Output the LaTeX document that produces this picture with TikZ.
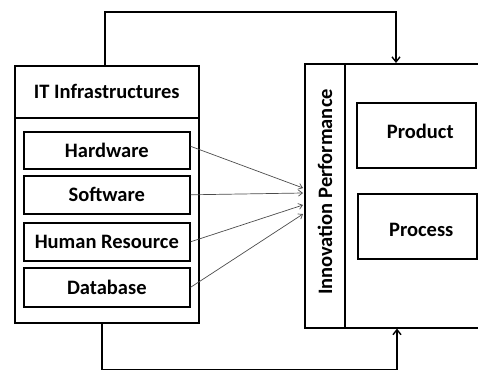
\documentclass[tikz,border=0pt]{standalone}
\usepackage{fontspec}
\setmainfont{Carlito}
\usetikzlibrary{arrows.meta}
\begin{document}
\begin{tikzpicture}[x=1pt,y=-1pt,
  box/.style={draw, line width=1.6pt, inner sep=0pt, anchor=north west, font=\fontsize{20.5}{24}\selectfont\bfseries},
  lbl/.style={inner sep=0pt, font=\fontsize{20.5}{24}\selectfont\bfseries},
  flow/.style={line width=1.6pt, -{Straight Barb[length=5pt,width=8pt,line width=1.4pt]}},
  thinarrow/.style={gray!60!black, line width=0.7pt, -{Straight Barb[length=4pt,width=6pt]}}]
\useasboundingbox (0,0) rectangle (478,370);
\clip (0,0) rectangle (478,370);
% left group
\node[box, minimum width=184pt, minimum height=257pt] (itbox) at (14,65) {};
\node[box, minimum width=184pt, minimum height=52pt] (ithead) at (14,65) {IT Infrastructures};
\node[box, minimum width=166pt, minimum height=37pt] (hw) at (23,131) {Hardware};
\node[box, minimum width=166pt, minimum height=38pt] (sw) at (23,175) {Software};
\node[box, minimum width=166pt, minimum height=38pt] (hr) at (23,222) {Human Resource};
\node[box, minimum width=166pt, minimum height=39pt] (db) at (23,267) {Database};
% right group
\node[box, minimum width=190pt, minimum height=264pt] (ip) at (304,63) {};
\node[box, minimum width=40pt, minimum height=264pt] (ipcol) at (304,63) {};
\node[lbl, rotate=90] (iptext) at (325,192) {Innovation Performance};
\node[box, minimum width=119pt, minimum height=65pt] (prod) at (356,102) {};
\node[lbl] (prodtext) at ([xshift=4pt,yshift=4pt]prod.center) {Product};
\node[box, minimum width=119pt, minimum height=65pt] (proc) at (357,193) {};
\node[lbl] (proctext) at ([xshift=4pt,yshift=-4pt]proc.center) {Process};
% targets
\coordinate (t1) at (303,188);
\coordinate (t2) at (303,193);
\coordinate (t3) at (303,205);
\coordinate (t4) at (303,214);
\draw[thinarrow] (hw.east) ++(0,-4) -- (t1);
\draw[thinarrow] (sw.east) -- (t2);
\draw[thinarrow] (hr.east) -- (t3);
\draw[thinarrow] (db.east) -- (t4);
% feedback lines
\draw[flow] ([xshift=91pt]itbox.north west) -- ++(0,-53) -| ([xshift=92pt]ip.north west);
\draw[flow] ([xshift=88pt]itbox.south west) -- ++(0,46) -| ([xshift=93pt]ip.south west);
\end{tikzpicture}
\end{document}
